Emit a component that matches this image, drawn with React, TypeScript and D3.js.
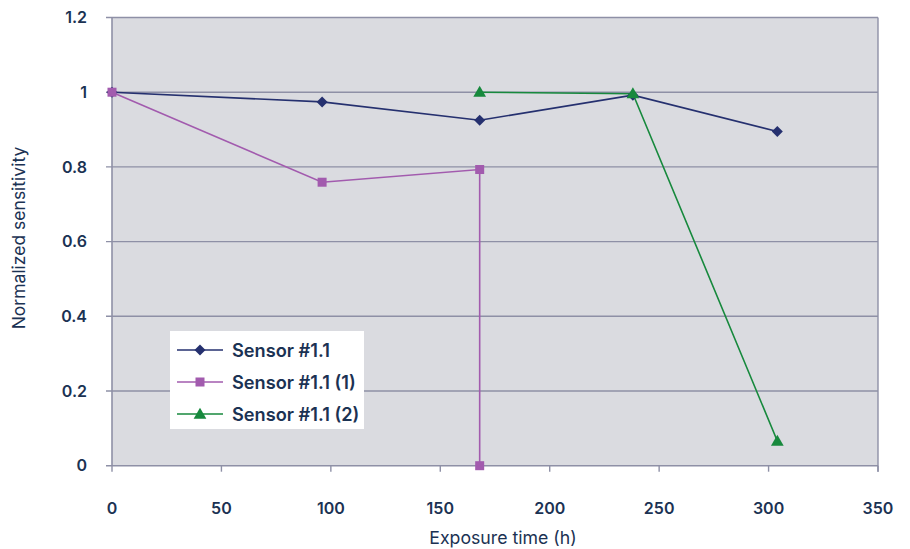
import React from "react";
import * as d3 from "d3";

const xTicks = [0, 50, 100, 150, 200, 250, 300, 350];
const yTicks = [0, 0.2, 0.4, 0.6, 0.8, 1, 1.2];
const yTickLabels = ["0", "0.2", "0.4", "0.6", "0.8", "1", "1.2"];

const sensorHours = [0, 96, 168, 238, 304];
const sensorValues = [1, 0.974, 0.925, 0.992, 0.895];

const sensor1Hours = [0, 96, 168, 168];
const sensor1Values = [1, 0.759, 0.793, 0];

const sensor2Hours = [168, 238, 304];
const sensor2Values = [1, 0.996, 0.066];

const seriesNames = ["Sensor #1.1", "Sensor #1.1 (1)", "Sensor #1.1 (2)"];
const seriesColors = ["#25306f", "#a25bae", "#17893d"];
const seriesShapes = ["diamond", "square", "triangle"];

const W = 910;
const H = 549;
const left = 112;
const right = 878;
const top = 17.5;
const bottom = 465.7;
const textColor = "#1b3253";
const font = "Inter, 'Noto Sans', sans-serif";

function Marker({ shape, x, y, color }: { shape: string; x: number; y: number; color: string }) {
  if (shape === "diamond") {
    const r = 5.5;
    return <path d={`M${x},${y - r}L${x + r},${y}L${x},${y + r}L${x - r},${y}Z`} fill={color} />;
  }
  if (shape === "square") {
    const s = 9;
    return <rect x={x - s / 2} y={y - s / 2} width={s} height={s} fill={color} />;
  }
  const sym = d3.symbol(d3.symbolTriangle, 70)();
  return <path d={sym || ""} transform={`translate(${x},${y + 1})`} fill={color} />;
}

export default function App() {
  const x = d3.scaleLinear().domain([0, 350]).range([left, right]);
  const y = d3.scaleLinear().domain([0, 1.2]).range([bottom, top]);
  const line = d3
    .line<[number, number]>()
    .x((d) => x(d[0]))
    .y((d) => y(d[1]));

  const series = [
    { hours: sensorHours, values: sensorValues },
    { hours: sensor1Hours, values: sensor1Values },
    { hours: sensor2Hours, values: sensor2Values },
  ].map((s, i) => ({
    name: seriesNames[i],
    color: seriesColors[i],
    shape: seriesShapes[i],
    pts: s.hours.map((h, j) => [h, s.values[j]] as [number, number]),
  }));

  const gridColor = "#8e90a6";

  return (
    <svg width={W} height={H} style={{ position: "absolute", left: 0, top: 0, background: "#fff" }}>
      <rect x={left} y={top} width={right - left} height={bottom - top} fill="#dadbe0" />
      {yTicks.map((t) => (
        <line key={"g" + t} x1={left - 6} x2={right} y1={y(t)} y2={y(t)} stroke={gridColor} strokeWidth={1.4} />
      ))}
      <line x1={left} x2={left} y1={top} y2={bottom} stroke={gridColor} strokeWidth={1.6} />
      <line x1={right} x2={right} y1={top} y2={bottom + 6} stroke={gridColor} strokeWidth={1.4} />
      {xTicks.map((t) => (
        <line key={"xt" + t} x1={x(t)} x2={x(t)} y1={bottom} y2={bottom + 6} stroke={gridColor} strokeWidth={1.4} />
      ))}
      {yTicks.map((t, i) => (
        <text key={"yl" + t} x={87} y={y(t)} dy="0.36em" textAnchor="end" fontFamily={font} fontSize={16} fontWeight={600} fill={textColor}>
          {yTickLabels[i]}
        </text>
      ))}
      {xTicks.map((t) => (
        <text key={"xl" + t} x={x(t)} y={514} textAnchor="middle" fontFamily={font} fontSize={16} fontWeight={600} fill={textColor}>
          {t}
        </text>
      ))}
      <text x={503} y={544} textAnchor="middle" fontFamily={font} fontSize={17.7} fill={textColor}>
        Exposure time (h)
      </text>
      <text transform={`translate(25,238) rotate(-90)`} textAnchor="middle" fontFamily={font} fontSize={17.5} fill={textColor}>
        Normalized sensitivity
      </text>

      {series.map((s) => (
        <path key={"l" + s.name} d={line(s.pts) || ""} fill="none" stroke={s.color} strokeWidth={1.6} />
      ))}
      {series.map((s) =>
        s.pts.map((p, j) => <Marker key={s.name + j} shape={s.shape} x={x(p[0])} y={y(p[1])} color={s.color} />)
      )}

      <rect x={170} y={331} width={194} height={98} fill="#fff" />
      {series.map((s, i) => {
        const ly = 350 + i * 32;
        return (
          <g key={"lg" + s.name}>
            <line x1={177} x2={223} y1={ly} y2={ly} stroke={s.color} strokeWidth={1.6} />
            <Marker shape={s.shape} x={200} y={ly} color={s.color} />
            <text x={232} y={ly} dy="0.36em" fontFamily={font} fontSize={18.2} fontWeight={600} fill={textColor}>
              {s.name}
            </text>
          </g>
        );
      })}
    </svg>
  );
}
